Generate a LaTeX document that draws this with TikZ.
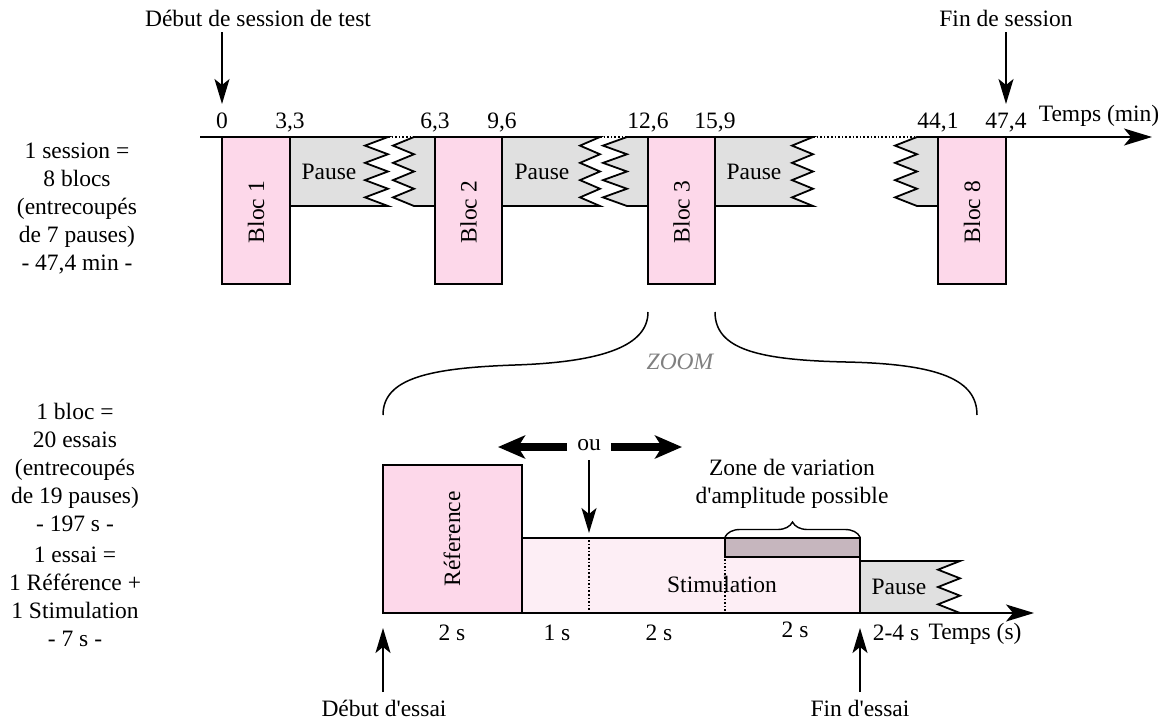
\documentclass[tikz,border=0pt]{standalone}
\usepackage{fontspec}
\setmainfont{Liberation Serif}
\usetikzlibrary{arrows.meta,decorations.pathreplacing,calc}
\definecolor{blocpink}{RGB}{253,216,234}
\definecolor{pausegray}{RGB}{224,224,224}
\definecolor{stimpink}{RGB}{253,238,245}
\definecolor{zonemauve}{RGB}{198,182,190}
\definecolor{zoomgray}{RGB}{128,128,128}
\begin{document}
\begin{tikzpicture}[x=1pt,y=-1pt,
  every node/.style={font=\fontsize{23.5}{28}\selectfont, inner sep=0pt},
  line/.style={line width=1.8pt},
  blocbox/.style={line, draw=black, fill=blocpink},
  pausebox/.style={line, draw=black, fill=pausegray},
  axisline/.style={line},
  axisarrow/.style={line, -{Stealth[length=28pt,width=17pt,inset=7pt]}},
  ptr/.style={line width=1.6pt, -{Stealth[length=25pt,width=15pt,inset=6pt]}},
  bigarrow/.style={line width=8pt, -{Stealth[length=27pt,width=23pt,inset=7pt]}},
  dots/.style={line width=1.6pt, dotted},
  lbl/.style={anchor=base},
]
\useasboundingbox (0,0) rectangle (1167,726);

% ---------------- top timeline ----------------
% pauses
\filldraw[pausebox] (290,137) -- (388,137) \foreach \k in {1,...,4}{ -- ++(-23,8.625) -- ++(23,8.625)} -- (290,206) -- cycle;
\filldraw[pausebox] (414,137) \foreach \k in {1,...,4}{ -- ++(-21,8.625) -- ++(21,8.625)} -- (435,206) -- (435,137) -- cycle;
\filldraw[pausebox] (502,137) -- (600,137) \foreach \k in {1,...,4}{ -- ++(-20,8.625) -- ++(20,8.625)} -- (502,206) -- cycle;
\filldraw[pausebox] (627,137) \foreach \k in {1,...,4}{ -- ++(-24,8.625) -- ++(24,8.625)} -- (648,206) -- (648,137) -- cycle;
\filldraw[pausebox] (715,137) -- (813,137) \foreach \k in {1,...,4}{ -- ++(-21,8.625) -- ++(21,8.625)} -- (715,206) -- cycle;
\filldraw[pausebox] (917,137) \foreach \k in {1,...,4}{ -- ++(-22,8.625) -- ++(22,8.625)} -- (938,206) -- (938,137) -- cycle;

% axis
\coordinate (ax0) at (200,137);
\coordinate (ax1) at (388,137);
\coordinate (ax2) at (414,137);
\coordinate (ax3) at (600,137);
\coordinate (ax4) at (627,137);
\coordinate (ax5) at (813,137);
\coordinate (ax6) at (917,137);
\coordinate (axE) at (1152,137);
\draw[axisline] (ax0) -- (ax1);
\draw[dots] (ax1) -- (ax2);
\draw[axisline] (ax2) -- (ax3);
\draw[dots] (ax3) -- (ax4);
\draw[axisline] (ax4) -- (ax5);
\draw[dots] (ax5) -- (ax6);
\draw[axisarrow] (ax6) -- (axE);

% blocs
\draw[blocbox] (222,137) rectangle (290,284);
\draw[blocbox] (435,137) rectangle (502,284);
\draw[blocbox] (648,137) rectangle (715,284);
\draw[blocbox] (938,137) rectangle (1006,284);
\node[rotate=90] (bl1) at (256,212) {Bloc 1};
\node[rotate=90] (bl2) at (468.5,212) {Bloc 2};
\node[rotate=90] (bl3) at (681.5,212) {Bloc 3};
\node[rotate=90] (bl8) at (972,212) {Bloc 8};
\node (p1) at (329,172) {Pause};
\node (p2) at (542,172) {Pause};
\node (p3) at (754,172) {Pause};

% tick labels
\node[lbl] (l0) at (222,128) {0};
\node[lbl] (l1) at (290,128) {3,3};
\node[lbl] (l2) at (435,128) {6,3};
\node[lbl] (l3) at (502,128) {9,6};
\node[lbl] (l4) at (648,128) {12,6};
\node[lbl] (l5) at (715,128) {15,9};
\node[lbl] (l6) at (938,128) {44,1};
\node[lbl] (l7) at (1006,128) {47,4};
\node[lbl] (tmin) at (1099,121) {Temps (min)};

% start / end of session
\node (debs) at (258,18) {Début de session de test};
\node (fins) at (1006,18) {Fin de session};
\coordinate (debsA) at (222,32);
\coordinate (debsT) at (222,104);
\coordinate (finsA) at (1006,32);
\coordinate (finsT) at (1006,104);
\draw[ptr] (debsA) -- (debsT);
\draw[ptr] (finsA) -- (finsT);

% left texts
\node[align=center] (g1) at (77,209) {1 session =\\8 blocs\\(entrecoupés\\de 7 pauses)\\- 47,4 min -};
\node[align=center] (g2) at (75,467) {1 bloc =\\20 essais\\(entrecoupés\\de 19 pauses)\\- 197 s -};
\node[align=center] (g3) at (75,597) {1 essai =\\1 Référence +\\1 Stimulation\\- 7 s -};

% ---------------- zoom curves ----------------
\coordinate (zl0) at (383,415);
\coordinate (zl1) at (515,365);
\coordinate (zl2) at (648,312);
\coordinate (zr0) at (715,312);
\coordinate (zr1) at (846,362);
\coordinate (zr2) at (977,415);
\draw[line width=1.5pt] (zl0) .. controls (383,378) and (430,368) .. (zl1) .. controls (605,362) and (648,345) .. (zl2);
\draw[line width=1.5pt] (zr0) .. controls (715,350) and (760,360) .. (zr1) .. controls (940,364) and (977,380) .. (zr2);
\node[text=zoomgray, font=\fontsize{23.5}{28}\selectfont\itshape] (zoom) at (680,362) {ZOOM};

% ---------------- bottom timeline ----------------
\filldraw[pausebox] (860,561) -- (960,561) \foreach \k in {1,...,3}{ -- ++(-22,8.667) -- ++(22,8.667)} -- (860,613) -- cycle;
\draw[line, fill=stimpink] (522,538) rectangle (860,613);
\draw[line, fill=zonemauve] (725,538) rectangle (860,557);
\draw[blocbox] (383,465) rectangle (522,613);
\draw[dots] (589,540) -- (589,612);
\draw[dots] (725,559) -- (725,612);

\coordinate (bx0) at (383,613);
\coordinate (bxE) at (1034,613);
\draw[axisarrow] (bx0) -- (bxE);

\node[rotate=90] (ref) at (452,539) {Réference};
\node (stim) at (722,584) {Stimulation};
\node (pb) at (899,587) {Pause};

% zone brace
\draw[line width=1.4pt, decorate, decoration={brace, amplitude=15pt}] (725,537) -- (860,537);
\node[align=center] (zone) at (792,484) {Zone de variation\\d\textquotesingle amplitude possible};

% ou arrows
\node[inner xsep=10pt, inner ysep=0pt] (ou) at (589,445) {ou};
\coordinate (ouL) at (498,447);
\coordinate (ouR) at (682,447);
\coordinate (ouD) at (589,533);
\coordinate (ouS) at (589,460);
\draw[bigarrow] (ou.west |- ouL) -- (ouL);
\draw[bigarrow] (ou.east |- ouR) -- (ouR);
\draw[ptr] (ouS) -- (ouD);

% duration labels
\node (d1) at (452,633) {2 s};
\node (d2) at (557,633) {1 s};
\node (d3) at (659,633) {2 s};
\node (d4) at (795,630) {2 s};
\node (d5) at (896,633) {2-4 s};
\node (tsec) at (975,634) {Temps (s)};

% trial start / end
\node (dess) at (384,708) {Début d\textquotesingle essai};
\node (fess) at (860,708) {Fin d\textquotesingle essai};
\coordinate (dessA) at (383,692);
\coordinate (dessT) at (383,628);
\coordinate (fessA) at (860,692);
\coordinate (fessT) at (860,628);
\draw[ptr] (dessA) -- (dessT);
\draw[ptr] (fessA) -- (fessT);
\end{tikzpicture}
\end{document}
